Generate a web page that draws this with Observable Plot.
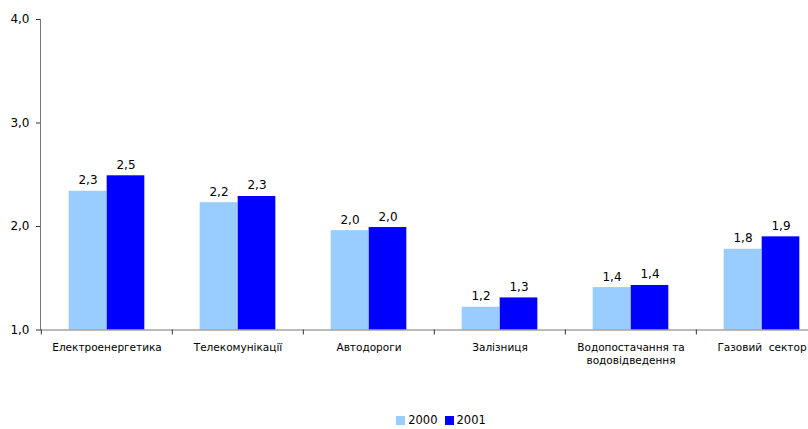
<!DOCTYPE html>
<html>
<head>
<meta charset="utf-8">
<script src="https://cdn.jsdelivr.net/npm/d3@7"></script>
<script src="https://cdn.jsdelivr.net/npm/@observablehq/plot@0.6"></script>
<style>
  html, body { margin: 0; padding: 0; background: #fff; overflow: hidden; }
  body { font-family: "DejaVu Sans", Verdana, sans-serif; width: 808px; height: 429px; }
  #chart svg { display: block; max-width: none !important; }
  #legend { position: absolute; top: 413px; left: 0; width: 882px; display: flex; justify-content: center; gap: 7px; font-size: 11.5px; color: #000; }
  .item { display: flex; align-items: center; gap: 3px; }
  .sw { width: 9px; height: 9px; display: inline-block; }
</style>
</head>
<body>
<div id="chart"></div>
<div id="legend"></div>
<script>
const categories = ["Електроенергетика", "Телекомунікації", "Автодороги", "Залізниця", "Водопостачання та\nводовідведення", "Газовий\u00a0 сектор"];
const values2000 = [2.34, 2.23, 1.96, 1.22, 1.41, 1.78];
const values2001 = [2.49, 2.29, 1.99, 1.31, 1.43, 1.90];
const years = ["2000", "2001"];
const colors = ["#99CCFF", "#0000FF"];
const yTicks = [1, 2, 3, 4];

const W = 830, ML = 40, MR = 2;
const B = (W - ML - MR) / categories.length;
const barW = 38;
const fmt = d => d.toFixed(1).replace(".", ",");

const d2000 = categories.map((c, i) => ({cat: c, value: values2000[i]}));
const d2001 = categories.map((c, i) => ({cat: c, value: values2001[i]}));
const inset = (B - barW) / 2;

const chart = Plot.plot({
  width: W,
  height: 372,
  marginLeft: ML,
  marginRight: MR,
  marginTop: 19,
  marginBottom: 42.5,
  style: {fontFamily: "DejaVu Sans, Verdana, sans-serif", fontSize: "12px", color: "#000", background: "#fff", maxWidth: "none"},
  x: {domain: categories, padding: 0, label: null},
  y: {domain: [1, 4], label: null},
  marks: [
    Plot.barY(d2000, {x: "cat", y1: 1, y2: "value", fill: colors[0], insetLeft: inset, insetRight: inset, dx: -barW / 2}),
    Plot.barY(d2001, {x: "cat", y1: 1, y2: "value", fill: colors[1], insetLeft: inset, insetRight: inset, dx: barW / 2}),
    Plot.text(d2000, {x: "cat", y: "value", text: d => fmt(d.value), dx: -barW / 2, dy: -7, lineAnchor: "bottom", fontSize: 12}),
    Plot.text(d2001, {x: "cat", y: "value", text: d => fmt(d.value), dx: barW / 2, dy: -7, lineAnchor: "bottom", fontSize: 12}),
    Plot.ruleY([1], {stroke: "#777"}),
    Plot.frame({anchor: "left", stroke: "#777"}),
    Plot.axisY({ticks: yTicks, tickSize: 4, tickPadding: 7, tickFormat: fmt, stroke: "#333", label: null}),
    Plot.axisX({tickSize: 5, tickFormat: () => "", dx: -B / 2, stroke: "#333", label: null}),
    Plot.text(categories, {x: d => d, text: d => d, frameAnchor: "bottom", dy: 11, lineAnchor: "top", lineHeight: 1.3, fontSize: 10.5})
  ]
});
document.getElementById("chart").appendChild(chart);

const legend = document.getElementById("legend");
years.forEach((y, i) => {
  const item = document.createElement("span");
  item.className = "item";
  const sw = document.createElement("span");
  sw.className = "sw";
  sw.style.background = colors[i];
  item.appendChild(sw);
  item.appendChild(document.createTextNode(y));
  legend.appendChild(item);
});
</script>
</body>
</html>
